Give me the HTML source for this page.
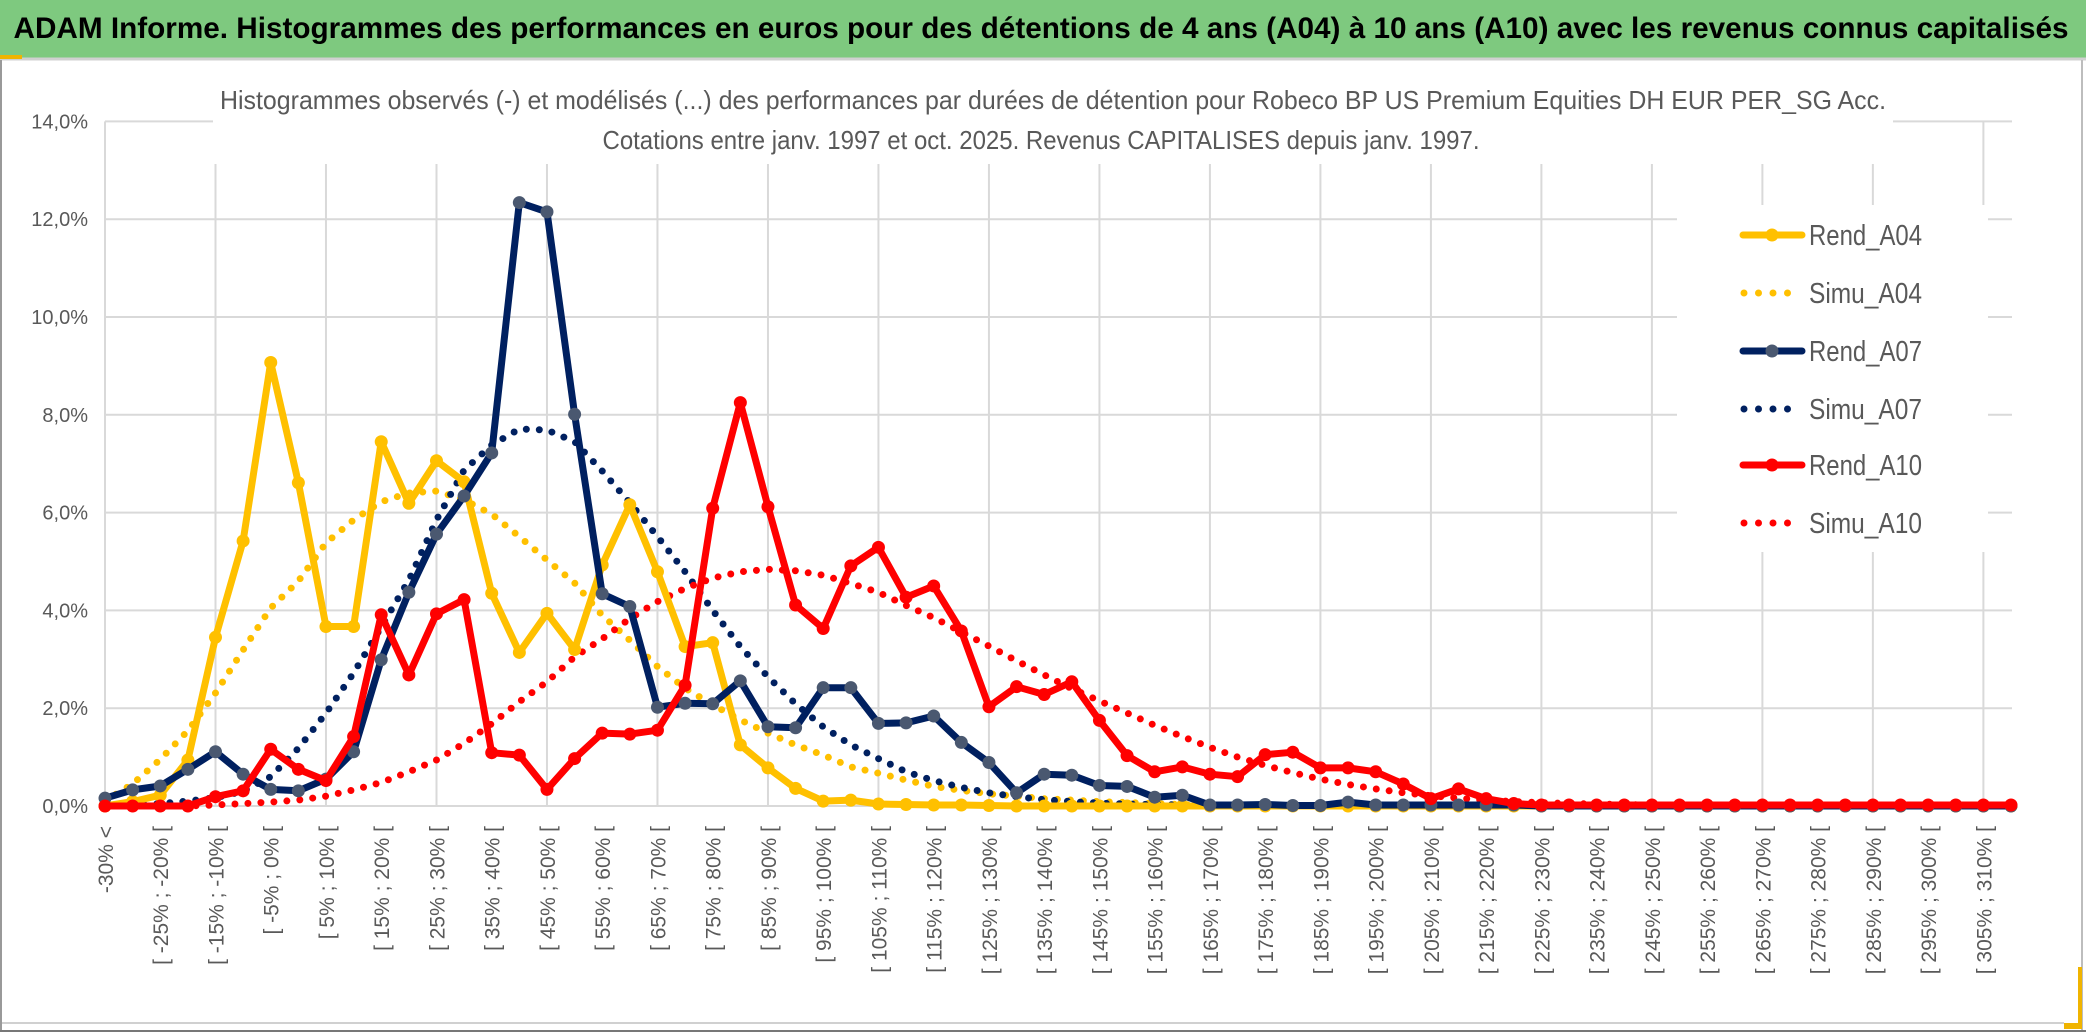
<!DOCTYPE html>
<html><head><meta charset="utf-8"><style>
html,body{margin:0;padding:0;background:#fff;}
svg{display:block;font-family:"Liberation Sans",sans-serif;}
</style></head><body>
<svg id="chart" width="2086" height="1033" viewBox="0 0 2086 1033" xmlns="http://www.w3.org/2000/svg">
<rect x="0" y="0" width="2086" height="1033" fill="#fff"/>
<rect x="0" y="0" width="2086" height="58" fill="#7EC97F"/>
<line x1="0" y1="59" x2="2086" y2="59" stroke="#d0d0d0" stroke-width="3"/>
<rect x="0" y="55" width="22" height="4" fill="#F0B400"/>
<text x="1041" y="38" text-anchor="middle" font-size="30" font-weight="bold" fill="#000" textLength="2055" lengthAdjust="spacingAndGlyphs">ADAM Informe. Histogrammes des performances en euros pour des détentions de 4 ans (A04) à 10 ans (A10) avec les revenus connus capitalisés</text>
<g id="grid"></g>
<rect x="213" y="78" width="1680" height="86" fill="#fff"/>
<text x="1053" y="109" text-anchor="middle" font-size="26" fill="#595959" textLength="1666" lengthAdjust="spacingAndGlyphs">Histogrammes observés (-) et modélisés (...) des performances par durées de détention pour Robeco BP US Premium Equities DH EUR PER_SG Acc.</text>
<text x="1041" y="149" text-anchor="middle" font-size="26" fill="#595959" textLength="877" lengthAdjust="spacingAndGlyphs">Cotations entre janv. 1997 et oct. 2025. Revenus CAPITALISES depuis janv. 1997.</text>
<g id="yaxis"></g>
<g id="xaxis"></g>
<g id="series"></g>
<rect x="1677" y="205" width="311" height="347" fill="#fff"/>
<g id="legend"></g>
<line x1="2082" y1="60" x2="2082" y2="1030" stroke="#bdbdbd" stroke-width="2"/>
<line x1="0" y1="1023" x2="2082" y2="1023" stroke="#d0d0d0" stroke-width="2"/>
<line x1="0" y1="1031" x2="2086" y2="1031" stroke="#777" stroke-width="2"/>
<line x1="1" y1="60" x2="1" y2="1030" stroke="#999" stroke-width="2"/>
<rect x="2064" y="967" width="18" height="62" fill="#F0B400"/>
<rect x="2064" y="967" width="14" height="56" fill="#fff"/>
</svg>
<script>
const rendA04 = [0,0.09,0.22,0.94,3.45,5.42,9.07,6.61,3.67,3.67,7.45,6.19,7.06,6.63,4.35,3.14,3.94,3.2,4.93,6.16,4.79,3.26,3.34,1.25,0.78,0.36,0.1,0.12,0.04,0.03,0.02,0.02,0.01,0,0,0,0,0,0,0,0,0,0,0,0,0,0,0,0,0,0,0,0,0,0,0,0,0,0,0,0,0,0,0,0,0,0,0,0,0];
const simuA04 = [0.1,0.45,0.95,1.54,2.31,3.19,4.05,4.6,5.38,5.85,6.22,6.4,6.44,6.26,5.97,5.51,5.03,4.56,3.9,3.39,2.85,2.41,2.07,1.76,1.49,1.25,1.04,0.8,0.67,0.53,0.4,0.32,0.25,0.2,0.15,0.12,0.09,0.07,0.05,0.03,0,0,0,0,0,0,0,0,0,0,0,0,0,0,0,0,0,0,0,0,0,0,0,0,0,0,0,0,0,0];
const rendA07 = [0.16,0.33,0.41,0.75,1.11,0.65,0.34,0.31,0.55,1.11,2.99,4.37,5.56,6.34,7.22,12.34,12.15,8.01,4.34,4.08,2.02,2.1,2.09,2.56,1.62,1.6,2.42,2.42,1.69,1.7,1.84,1.3,0.89,0.27,0.65,0.63,0.42,0.4,0.18,0.22,0.02,0.02,0.03,0.01,0.01,0.08,0.02,0.02,0.02,0.02,0.02,0.02,0,0,0,0,0,0,0,0,0,0,0,0,0,0,0,0,0,0];
const simuA07 = [0,0.02,0.05,0.1,0.17,0.3,0.6,1.18,1.9,2.72,3.66,4.62,5.85,6.87,7.38,7.71,7.69,7.45,6.85,6.2,5.51,4.79,4.0,3.26,2.64,2.09,1.62,1.25,0.97,0.7,0.52,0.38,0.27,0.19,0.13,0.09,0.06,0.04,0.03,0.02,0.01,0,0,0,0,0,0,0,0,0,0,0,0,0,0,0,0,0,0,0,0,0,0,0,0,0,0,0,0,0];
const rendA10 = [0,0,0,0,0.19,0.31,1.16,0.75,0.52,1.42,3.91,2.68,3.93,4.22,1.09,1.04,0.34,0.97,1.49,1.47,1.55,2.47,6.09,8.25,6.12,4.11,3.63,4.91,5.29,4.27,4.5,3.58,2.03,2.44,2.28,2.54,1.75,1.03,0.7,0.8,0.65,0.6,1.05,1.1,0.78,0.78,0.7,0.45,0.15,0.35,0.15,0.05,0.02,0.02,0.02,0.02,0.02,0.02,0.02,0.02,0.02,0.02,0.02,0.02,0.02,0.02,0.02,0.02,0.02,0.02];
const simuA10 = [0,0,0,0,0.02,0.05,0.08,0.12,0.2,0.33,0.48,0.7,0.94,1.28,1.68,2.13,2.54,3.05,3.42,3.83,4.18,4.45,4.66,4.79,4.84,4.81,4.72,4.55,4.37,4.1,3.85,3.56,3.27,2.97,2.68,2.4,2.15,1.9,1.65,1.42,1.2,1.0,0.83,0.68,0.55,0.44,0.35,0.27,0.21,0.16,0.12,0.09,0.07,0.05,0.04,0.03,0.02,0.02,0.01,0.01,0,0,0,0,0,0,0,0,0,0];
const yTicks = [0,2,4,6,8,10,12,14];
const yTickLabels = ["0,0%","2,0%","4,0%","6,0%","8,0%","10,0%","12,0%","14,0%"];
const nCats = 70;
const categories = [];
for (let k = 0; k < nCats; k++) {
  if (k === 0) categories.push("-30% <");
  else { const a = -35 + 5 * k; categories.push("[ " + a + "% ; " + (a + 5) + "% ["); }
}

const NS = "http://www.w3.org/2000/svg";
const X0 = 105, X1 = 2011, Y0 = 806, PXPCT = 48.9;
function xs(k) { return X0 + k * (X1 - X0) / (nCats - 1); }
function ys(v) { return Y0 - v * PXPCT; }
function mk(tag, attrs, parent) {
  const e = document.createElementNS(NS, tag);
  for (const key in attrs) e.setAttribute(key, attrs[key]);
  parent.appendChild(e);
  return e;
}
const grid = document.getElementById("grid");
yTicks.forEach(function (t) {
  const l = mk("line", {x1: X0, x2: 2012, y1: ys(t), y2: ys(t), stroke: "#D9D9D9", "stroke-width": 2}, grid);
  
  
});
for (let k = 0; k < nCats; k += 4) {
  const l = mk("line", {x1: xs(k), x2: xs(k), y1: ys(14), y2: Y0, stroke: "#D9D9D9", "stroke-width": 2}, grid);
  
  
}
const yax = document.getElementById("yaxis");
yTicks.forEach(function (t, i) {
  const tx = mk("text", {x: 88, y: ys(t) + 7, "text-anchor": "end", "font-size": 20, fill: "#595959"}, yax);
  tx.textContent = yTickLabels[i];
  
  
});
const xax = document.getElementById("xaxis");
for (let k = 0; k < nCats; k += 2) {
  const x = xs(k) + 8, y = 826;
  const tx = mk("text", {x: x, y: y, "text-anchor": "end", "font-size": 21, fill: "#595959", transform: "rotate(-90 " + x + " " + y + ")"}, xax);
  tx.textContent = categories[k];
  
  
}
const ser = document.getElementById("series");
function pts(arr) { return arr.map(function (v, k) { return xs(k).toFixed(1) + "," + ys(v).toFixed(1); }).join(" "); }
function dotted(arr, color, name) {
  const p = mk("polyline", {points: pts(arr), fill: "none", stroke: color, "stroke-width": 7, "stroke-linecap": "round", "stroke-dasharray": "0 13"}, ser);
  
  
}
function solid(arr, color, mcolor, name) {
  const p = mk("polyline", {points: pts(arr), fill: "none", stroke: color, "stroke-width": 7, "stroke-linejoin": "round"}, ser);
  
  
  arr.forEach(function (v, k) {
    const c = mk("circle", {cx: xs(k), cy: ys(v), r: 6.5, fill: mcolor}, ser);
    
    
  });
}
dotted(simuA04, "#FFC000", "simu-a04-line");
dotted(simuA07, "#002060", "simu-a07-line");
dotted(simuA10, "#FF0000", "simu-a10-line");
solid(rendA04, "#FFC000", "#FFC000", "rend-a04-line");
solid(rendA07, "#002060", "#4A5870", "rend-a07-line");
solid(rendA10, "#FF0000", "#FF0000", "rend-a10-line");

const legendNames = ["Rend_A04","Simu_A04","Rend_A07","Simu_A07","Rend_A10","Simu_A10"];
const legendColors = ["#FFC000","#FFC000","#002060","#002060","#FF0000","#FF0000"];
const legendY = [235,293,351,409,465,523];
const lg = document.getElementById("legend");
legendNames.forEach(function (n, i) {
  const y = legendY[i];
  const g = mk("g", {}, lg);
  
  
  if (i % 2 === 0) {
    mk("line", {x1: 1743, x2: 1802, y1: y, y2: y, stroke: legendColors[i], "stroke-width": 7, "stroke-linecap": "round"}, g);
    mk("circle", {cx: 1772, cy: y, r: 6.5, fill: i === 2 ? "#4A5870" : legendColors[i]}, g);
  } else {
    mk("line", {x1: 1744, x2: 1800, y1: y, y2: y, stroke: legendColors[i], "stroke-width": 7, "stroke-linecap": "round", "stroke-dasharray": "0 14.5"}, g);
  }
  const t = mk("text", {x: 1809, y: y + 10, "font-size": 29, fill: "#595959", textLength: 113, lengthAdjust: "spacingAndGlyphs"}, g);
  t.textContent = n;
});
</script>
</body></html>
